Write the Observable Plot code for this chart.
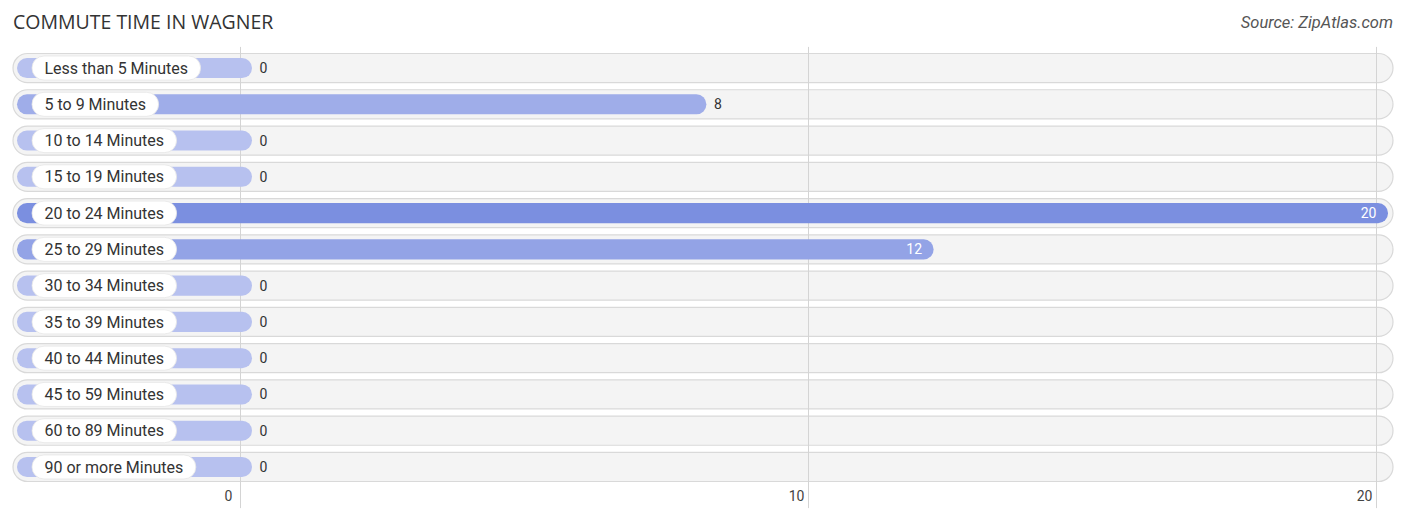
<!DOCTYPE html>
<html>
<head>
<meta charset="utf-8">
<script src="https://cdn.jsdelivr.net/npm/d3@7"></script>
<script src="https://cdn.jsdelivr.net/npm/@observablehq/plot@0.6"></script>
<style>
  html, body { margin: 0; padding: 0; background: #fff; }
  #wrap { position: relative; width: 1406px; height: 523px; font-family: Roboto, sans-serif; }
  #title { position: absolute; left: 13px; top: 8px; font-size: 19.5px; color: #333; font-family: "Open Sans", Roboto, sans-serif; }
  #source { position: absolute; right: 13px; top: 13px; font-size: 16.5px; font-style: italic; color: #555; }
  #chart { position: absolute; left: 0; top: 40px; }
  #chart svg { display: block; }
</style>
</head>
<body>
<div id="wrap">
  <div id="title">COMMUTE TIME IN WAGNER</div>
  <div id="source">Source: ZipAtlas.com</div>
  <div id="chart"></div>
</div>
<script>
const categories = [
  "Less than 5 Minutes", "5 to 9 Minutes", "10 to 14 Minutes", "15 to 19 Minutes",
  "20 to 24 Minutes", "25 to 29 Minutes", "30 to 34 Minutes", "35 to 39 Minutes",
  "40 to 44 Minutes", "45 to 59 Minutes", "60 to 89 Minutes", "90 or more Minutes"
];
const values = [0, 8, 0, 0, 20, 12, 0, 0, 0, 0, 0, 0];
const xTicks = [0, 10, 20];

const W = 1406, H = 483;
const mL = 240, mR = 30;
const xs = Plot.scale({x: {domain: [0, 20], range: [mL, W - mR]}});

const ctx = document.createElement("canvas").getContext("2d");
ctx.font = "16px Roboto";
const rows = categories.map((c, i) => ({
  cat: c,
  value: values[i],
  lx1: xs.invert(32),
  lx2: xs.invert(44 + ctx.measureText(c).width + 13)
}));

const chart = Plot.plot({
  width: W, height: H,
  marginLeft: mL, marginRight: mR, marginTop: 9.9, marginBottom: 37.9,
  x: {domain: [0, 20], axis: null},
  y: {domain: categories, axis: null, padding: 0, round: false},
  color: {type: "linear", domain: [0, 20], range: ["#b7c1ef", "#7b8fe0"]},
  style: {fontFamily: "Roboto, sans-serif", background: "transparent", overflow: "visible"},
  marks: [
    Plot.barX(rows, {x1: 0, x2: 20, y: "cat", insetLeft: -227, insetRight: -17, insetTop: 3.6, insetBottom: 3.6, rx: 14.5, fill: "#f4f4f4", stroke: "#d9d9d9", strokeWidth: 1.2}),
    Plot.ruleX(xTicks, {x: d => d, stroke: "#d4d4d4", strokeWidth: 1, insetTop: -3, insetBottom: -23}),
    Plot.barX(rows, {x1: 0, x2: "value", y: "cat", fill: "value", insetLeft: -223, insetRight: -12, insetTop: 8.1, insetBottom: 8.1, rx: 10}),
    Plot.barX(rows, {x1: "lx1", x2: "lx2", y: "cat", fill: "#fff", insetTop: 6.1, insetBottom: 6.1, rx: 12, stroke: "#e6e6e6", strokeWidth: 0.8}),
    Plot.text(rows, {x: 0, y: "cat", text: "cat", textAnchor: "start", dx: -196, fontSize: 16, fill: "#333"}),
    Plot.text(rows.filter(d => d.value < 10), {x: "value", y: "cat", text: d => String(d.value), textAnchor: "start", dx: 19, fontSize: 14, fill: "#333"}),
    Plot.text(rows.filter(d => d.value >= 10), {x: "value", y: "cat", text: d => String(d.value), textAnchor: "end", dx: 0, fontSize: 14, fill: "#fff"}),
    Plot.text(xTicks, {x: d => d, frameAnchor: "bottom", dy: 15, dx: -12, text: d => String(d), fontSize: 14, fill: "#444"})
  ]
});
document.getElementById("chart").appendChild(chart);
</script>
</body>
</html>
